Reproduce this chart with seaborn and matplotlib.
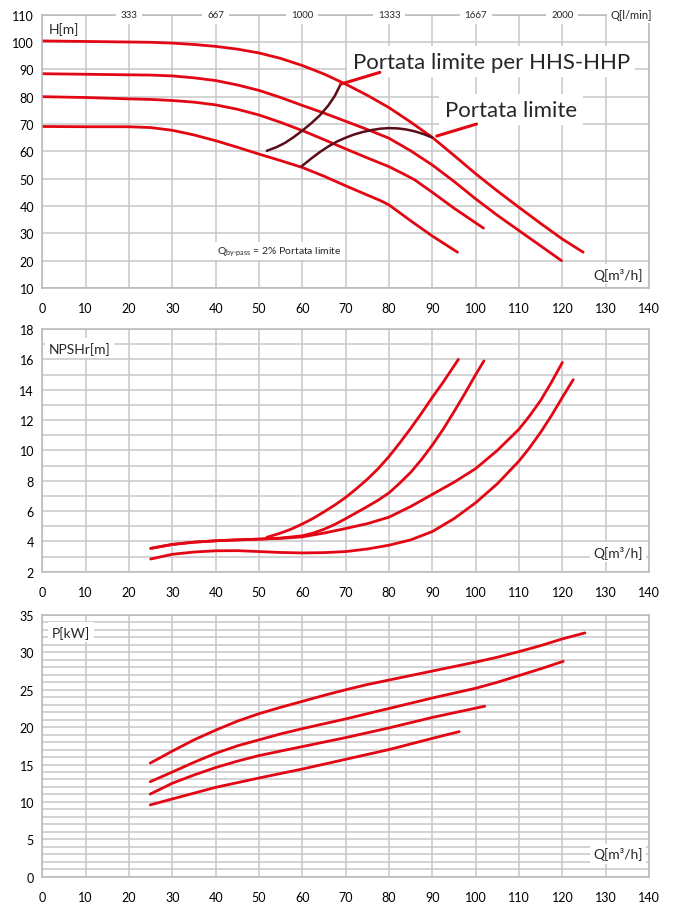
import pandas as pd
import matplotlib.pyplot as plt
import seaborn as sns
from matplotlib.ticker import MultipleLocator

# --- curve H-Q (prevalenza) ---
q_h1 = [0, 10, 20, 25, 30, 35, 40, 45, 50, 55, 60, 65, 70, 75, 80, 85, 90, 95, 100, 105, 110, 115, 120, 124.8]
h_1 = [100.4, 100.2, 100.0, 99.9, 99.6, 99.1, 98.4, 97.4, 96.0, 94.0, 91.4, 88.3, 84.6, 80.5, 76.0, 70.7, 65.1,
       58.5, 51.8, 45.5, 39.5, 33.6, 27.9, 23.1]
q_h2 = [0, 10, 20, 25, 30, 35, 40, 45, 50, 55, 60, 65, 70, 75, 80, 85, 90, 95, 100, 105, 110, 115, 119.8]
h_2 = [88.4, 88.2, 88.0, 87.9, 87.6, 86.9, 85.9, 84.3, 82.3, 79.7, 76.8, 74.0, 71.0, 68.0, 64.8, 60.2, 55.0,
       49.0, 42.6, 36.6, 31.0, 25.4, 20.0]
q_h3 = [0, 10, 20, 25, 30, 35, 40, 45, 50, 55, 60, 65, 70, 75, 80, 84, 86, 90, 95, 101.8]
h_3 = [80.0, 79.7, 79.2, 79.0, 78.6, 78.0, 77.0, 75.4, 73.3, 70.6, 67.6, 64.3, 60.9, 57.6, 54.4, 51.2, 49.5,
       45.0, 39.2, 31.9]
q_h4 = [0, 10, 20, 25, 30, 35, 40, 45, 50, 55, 60, 65, 70, 75, 78, 80, 85, 90, 95.8]
h_4 = [69.1, 69.0, 69.0, 68.7, 67.7, 66.0, 63.9, 61.5, 59.0, 56.6, 54.1, 50.9, 47.4, 44.0, 42.0, 40.4, 34.6,
       29.0, 23.1]

# limiti di portata
q_hhs = [51.8, 54, 56, 58, 60, 62, 64, 66, 67.5, 68.85]
h_hhs = [60.2, 61.5, 63.1, 65.2, 67.6, 70.2, 73.1, 76.8, 80.3, 84.6]
q_lim = [59.8, 62, 64, 66, 68, 70, 72, 74, 76, 78, 80, 82, 84, 86, 88, 89.9]
h_lim = [54.5, 57.3, 59.7, 61.8, 63.6, 65.0, 66.2, 67.1, 67.8, 68.3, 68.5, 68.4, 68.0, 67.3, 66.3, 65.1]

# --- curve NPSHr ---
q_n1 = [25, 30, 35, 40, 45, 50, 55, 60, 65, 70, 75, 80, 85, 90, 95, 100, 105, 110, 112.5, 115, 117.5, 120, 122.5]
n_1 = [2.84, 3.15, 3.3, 3.38, 3.39, 3.33, 3.27, 3.24, 3.26, 3.33, 3.5, 3.75, 4.1, 4.65, 5.5, 6.55, 7.8, 9.3,
       10.2, 11.2, 12.3, 13.5, 14.66]
q_n2 = [25, 30, 35, 40, 45, 50, 55, 60, 65, 70, 75, 80, 85, 90, 95, 100, 105, 110, 112.5, 115, 117.5, 120]
n_2 = [3.54, 3.8, 3.95, 4.04, 4.1, 4.15, 4.2, 4.3, 4.55, 4.85, 5.17, 5.6, 6.3, 7.1, 7.9, 8.8, 10.0, 11.4,
       12.3, 13.3, 14.5, 15.8]
q_n3 = [25, 30, 35, 40, 45, 50, 55, 60, 62.5, 65, 67.5, 70, 72.5, 75, 77.5, 80, 82.5, 85, 87.5, 90, 92.5, 95,
        97.5, 100, 101.9]
n_3 = [3.54, 3.8, 3.95, 4.04, 4.1, 4.15, 4.22, 4.37, 4.55, 4.8, 5.12, 5.5, 5.9, 6.3, 6.72, 7.2, 7.85, 8.55,
       9.4, 10.35, 11.4, 12.55, 13.75, 15.0, 15.9]
q_n4 = [51.8, 55, 57.5, 60, 62.5, 65, 67.5, 70, 72.5, 75, 77.5, 80, 82.5, 85, 87.5, 90, 92.5, 96]
n_4 = [4.27, 4.55, 4.82, 5.15, 5.52, 5.95, 6.4, 6.9, 7.48, 8.1, 8.8, 9.6, 10.5, 11.45, 12.45, 13.5, 14.5, 16.0]

# --- curve potenza ---
q_p1 = [24.9, 27.5, 30, 35, 40, 45, 50, 55, 60, 65, 70, 75, 80, 85, 90, 95, 100, 105, 110, 115, 120, 125.2]
p_1 = [15.2, 16.0, 16.8, 18.3, 19.6, 20.8, 21.8, 22.65, 23.45, 24.25, 25.0, 25.7, 26.3, 26.9, 27.5, 28.1,
       28.7, 29.35, 30.1, 30.9, 31.8, 32.6]
q_p2 = [24.9, 30, 35, 40, 45, 50, 55, 60, 65, 70, 75, 80, 85, 90, 95, 100, 105, 110, 115, 120.2]
p_2 = [12.7, 14.0, 15.3, 16.5, 17.5, 18.3, 19.1, 19.8, 20.45, 21.1, 21.8, 22.5, 23.2, 23.9, 24.55, 25.2,
       26.0, 26.9, 27.8, 28.8]
q_p3 = [24.9, 30, 35, 40, 45, 50, 55, 60, 70, 80, 90, 102.1]
p_3 = [11.05, 12.5, 13.6, 14.6, 15.45, 16.2, 16.8, 17.4, 18.6, 19.9, 21.3, 22.8]
q_p4 = [24.9, 30, 40, 50, 60, 70, 80, 90, 96.2]
p_4 = [9.6, 10.4, 11.95, 13.2, 14.4, 15.7, 17.0, 18.5, 19.4]

top_ticks = [20, 40, 60, 80, 100, 120]
top_labels = ['333', '667', '1000', '1333', '1667', '2000']

RED = '#e30613'
DARK = '#5a0d18'
GRID = '#c8c8c8'


def long_df(series):
    rows = []
    for name, q, v in series:
        rows.append(pd.DataFrame({'Q': q, 'v': v, 'curve': name}))
    return pd.concat(rows, ignore_index=True)


def draw(ax, df, color, lw):
    names = df['curve'].unique()
    sns.lineplot(data=df, x='Q', y='v', hue='curve', palette={n: color for n in names},
                 sort=False, estimator=None, legend=False, lw=lw, ax=ax)


def style(ax, ylim, major, minor):
    ax.set_xlim(0, 140)
    ax.set_ylim(*ylim)
    ax.xaxis.set_major_locator(MultipleLocator(10))
    ax.yaxis.set_major_locator(MultipleLocator(major))
    ax.yaxis.set_minor_locator(MultipleLocator(minor))
    ax.grid(which='both', color=GRID, lw=1.1)
    ax.set_axisbelow(True)
    for s in ax.spines.values():
        s.set_color('#b8b8b8')
        s.set_linewidth(1.1)
    ax.tick_params(which='major', direction='out', length=3, width=1, color='#b8b8b8',
                   labelsize=9, labelcolor='black')
    ax.tick_params(axis='x', which='major', pad=7)
    ax.tick_params(axis='y', which='major', pad=3)
    ax.tick_params(which='minor', length=0)
    ax.set_xlabel('')
    ax.set_ylabel('')


sns.set_style('white')
plt.rcParams['font.family'] = ['Lato', 'DejaVu Sans']
plt.rcParams['mathtext.fontset'] = 'custom'
plt.rcParams['mathtext.rm'] = 'Lato'

box = dict(boxstyle='square,pad=0.25', fc='white', ec='none')

fig = plt.figure(figsize=(6.73, 9.12), dpi=100)
ax1 = fig.add_axes([0.0629, 0.6831, 0.9015, 0.2997])
ax2 = fig.add_axes([0.0629, 0.3720, 0.9015, 0.2661])
ax3 = fig.add_axes([0.0629, 0.0376, 0.9015, 0.2870])

# --- H ---
draw(ax1, long_df([('h1', q_h1, h_1), ('h2', q_h2, h_2), ('h3', q_h3, h_3), ('h4', q_h4, h_4)]), RED, 2.0)
draw(ax1, long_df([('hhs', q_hhs, h_hhs), ('lim', q_lim, h_lim)]), DARK, 1.8)
style(ax1, (10, 110), 10, 10)
ax1.text(71.6, 90.6, 'Portata limite per HHS-HHP', fontsize=16, va='baseline', bbox=box, zorder=5)
ax1.text(92.9, 73.1, 'Portata limite', fontsize=16, va='baseline', bbox=box, zorder=5)
ax1.plot([q_hhs[-1], 77.9], [h_hhs[-1], 88.9], color=RED, lw=2.2, zorder=6)
ax1.plot([91.0, 100.2], [65.6, 70.0], color=RED, lw=2.2, zorder=6)
ax1.text(1.4, 104.8, 'H[m]', fontsize=10, va='center', bbox=box)
ax1.text(138.5, 15.1, 'Q[m³/h]', fontsize=10, va='center', ha='right', bbox=box)
ax1.text(40.2, 23.6, r'Q$_{\text{by-pass}}$ = 2% Portata limite', fontsize=7.5, va='center', bbox=box)
for t, lab in zip(top_ticks, top_labels):
    ax1.text(t, 110, lab, fontsize=7, ha='center', va='center',
             bbox=dict(boxstyle='square,pad=0.5', fc='white', ec='none'), clip_on=False)
ax1.text(140.6, 110, 'Q[l/min]', fontsize=8, ha='right', va='center', bbox=box, clip_on=False)

# --- NPSHr ---
draw(ax2, long_df([('n1', q_n1, n_1), ('n2', q_n2, n_2), ('n3', q_n3, n_3), ('n4', q_n4, n_4)]), RED, 2.0)
style(ax2, (2, 18), 2, 1)
ax2.text(1.4, 16.73, 'NPSHr[m]', fontsize=10, va='center', bbox=box)
ax2.text(138.5, 3.28, 'Q[m³/h]', fontsize=10, va='center', ha='right', bbox=box)

# --- P ---
draw(ax3, long_df([('p1', q_p1, p_1), ('p2', q_p2, p_2), ('p3', q_p3, p_3), ('p4', q_p4, p_4)]), RED, 2.0)
style(ax3, (0, 35), 5, 1)
ax3.text(2.2, 32.7, 'P[kW]', fontsize=10, va='center', bbox=box)
ax3.text(138.5, 3.04, 'Q[m³/h]', fontsize=10, va='center', ha='right', bbox=box)

fig.savefig('out.png', dpi=100, facecolor='white')
